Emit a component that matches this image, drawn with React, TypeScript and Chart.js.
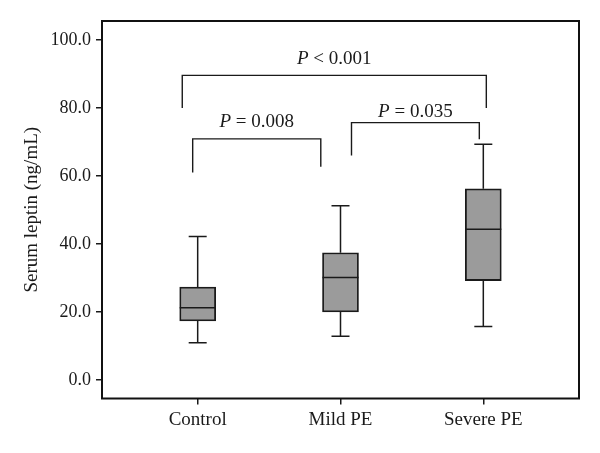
import React, { useEffect, useRef } from "react";
import { Chart, registerables } from "chart.js";

Chart.register(...registerables);

const categories = ["Control", "Mild PE", "Severe PE"];
const whiskerLow = [10.9, 12.8, 15.7];
const q1 = [17.3, 20.0, 29.2];
const median = [21.2, 30.1, 44.3];
const q3 = [27.3, 37.4, 56.2];
const whiskerHigh = [42.2, 51.2, 69.3];
const yTicks = [0, 20, 40, 60, 80, 100];

const bracketLabels = ["< 0.001", "= 0.008", "= 0.035"];
const bracketFrom = [-0.108, -0.035, 1.077];
const bracketTo = [2.021, 0.862, 1.972];
const bracketTop = [89.6, 70.9, 75.7];
const bracketLeftEnd = [80.0, 61.0, 66.0];
const bracketRightEnd = [80.0, 62.7, 70.8];
const labelBaseline = [93.0, 74.3, 77.2];

const FONT = '"Liberation Serif", "Times New Roman", serif';
const INK = "#1a1a1a";

const boxPlugin = {
  id: "boxExtras",
  beforeDatasetsDraw(chart: any) {
    const { ctx, scales } = chart;
    const x = scales.x, y = scales.y;
    ctx.save();
    ctx.strokeStyle = INK;
    ctx.lineWidth = 1.5;
    categories.forEach((_, i) => {
      const px = x.getPixelForValue(i);
      const yl = y.getPixelForValue(whiskerLow[i]);
      const yh = y.getPixelForValue(whiskerHigh[i]);
      const y1 = y.getPixelForValue(q1[i]);
      const y3 = y.getPixelForValue(q3[i]);
      ctx.beginPath();
      ctx.moveTo(px, yl); ctx.lineTo(px, y1);
      ctx.moveTo(px, y3); ctx.lineTo(px, yh);
      ctx.moveTo(px - 9, yl); ctx.lineTo(px + 9, yl);
      ctx.moveTo(px - 9, yh); ctx.lineTo(px + 9, yh);
      ctx.stroke();
    });
    ctx.restore();
  },
  afterDatasetsDraw(chart: any) {
    const { ctx, scales } = chart;
    const x = scales.x, y = scales.y;
    const meta = chart.getDatasetMeta(0);
    ctx.save();
    ctx.strokeStyle = INK;
    ctx.lineWidth = 1.5;
    categories.forEach((_, i) => {
      const bar = meta.data[i];
      const half = bar.width / 2;
      const px = x.getPixelForValue(i);
      const ym = y.getPixelForValue(median[i]);
      ctx.beginPath();
      ctx.moveTo(px - half, ym); ctx.lineTo(px + half, ym);
      ctx.stroke();
    });
    // brackets
    ctx.lineWidth = 1.4;
    bracketLabels.forEach((lab, i) => {
      const xa = x.getPixelForValue(bracketFrom[i]);
      const xb = x.getPixelForValue(bracketTo[i]);
      const yt = y.getPixelForValue(bracketTop[i]);
      ctx.beginPath();
      ctx.moveTo(xa, y.getPixelForValue(bracketLeftEnd[i]));
      ctx.lineTo(xa, yt);
      ctx.lineTo(xb, yt);
      ctx.lineTo(xb, y.getPixelForValue(bracketRightEnd[i]));
      ctx.stroke();
      const fontP = `italic 19px ${FONT}`;
      const fontR = `19px ${FONT}`;
      ctx.font = fontP;
      const wP = ctx.measureText("P").width;
      ctx.font = fontR;
      const rest = " " + lab;
      const wR = ctx.measureText(rest).width;
      const cx = (xa + xb) / 2;
      const start = cx - (wP + wR) / 2;
      const by = y.getPixelForValue(labelBaseline[i]);
      ctx.fillStyle = INK;
      ctx.textBaseline = "alphabetic";
      ctx.textAlign = "left";
      ctx.font = fontP;
      ctx.fillText("P", start, by);
      ctx.font = fontR;
      ctx.fillText(rest, start + wP, by);
    });
    ctx.restore();
  },
  afterDraw(chart: any) {
    const { ctx, chartArea } = chart;
    ctx.save();
    ctx.strokeStyle = "#111";
    ctx.lineWidth = 2;
    ctx.strokeRect(chartArea.left, chartArea.top, chartArea.right - chartArea.left, chartArea.bottom - chartArea.top);
    ctx.restore();
  },
};

export default function App() {
  const ref = useRef<HTMLCanvasElement | null>(null);
  useEffect(() => {
    if (!ref.current) return;
    const chart = new Chart(ref.current, {
      type: "bar",
      data: {
        datasets: [
          {
            data: categories.map((_, i) => ({ x: i, y: [q1[i], q3[i]] })) as any,
            backgroundColor: "#9b9b9b",
            borderColor: INK,
            borderWidth: 1.8,
            borderSkipped: false,
            barThickness: 36,
          },
        ],
      },
      options: {
        animation: false,
        responsive: false,
        maintainAspectRatio: false,
        layout: { padding: { top: 21, right: 21, left: 0, bottom: 0 } },
        plugins: { legend: { display: false }, tooltip: { enabled: false } },
        scales: {
          x: {
            type: "linear",
            offset: false,
            min: -0.67,
            max: 2.67,
            afterBuildTicks: (s: any) => {
              s.ticks = categories.map((_, i) => ({ value: i }));
            },
            afterFit: (s: any) => {
              s.height = 54.5;
            },
            border: { display: false },
            grid: { display: true, offset: false, drawOnChartArea: false, drawTicks: true, tickLength: 6, color: INK, lineWidth: 1.5 },
            ticks: {
              padding: 4,
              color: INK,
              font: { family: FONT, size: 19 },
              callback: (v: any) => categories[v] ?? "",
              maxRotation: 0,
              autoSkip: false,
            },
          },
          y: {
            type: "linear",
            min: -5.5,
            max: 105.6,
            afterBuildTicks: (s: any) => {
              s.ticks = yTicks.map((v) => ({ value: v }));
            },
            afterFit: (s: any) => {
              s.width = 102;
            },
            border: { display: false },
            grid: { display: true, drawOnChartArea: false, drawTicks: true, tickLength: 6, color: INK, lineWidth: 1.5 },
            ticks: {
              padding: 5,
              color: INK,
              font: { family: FONT, size: 18 },
              callback: (v: any) => Number(v).toFixed(1),
            },
            title: {
              display: true,
              text: "Serum leptin (ng/mL)",
              color: INK,
              font: { family: FONT, size: 19 },
              padding: { top: 21, bottom: 0 },
            },
          },
        },
      },
      plugins: [boxPlugin],
    });
    return () => chart.destroy();
  }, []);
  return (
    <div style={{ position: "absolute", left: 0, top: 0, width: 600, height: 453, background: "#fff" }}>
      <canvas ref={ref} width={600} height={453} />
    </div>
  );
}
